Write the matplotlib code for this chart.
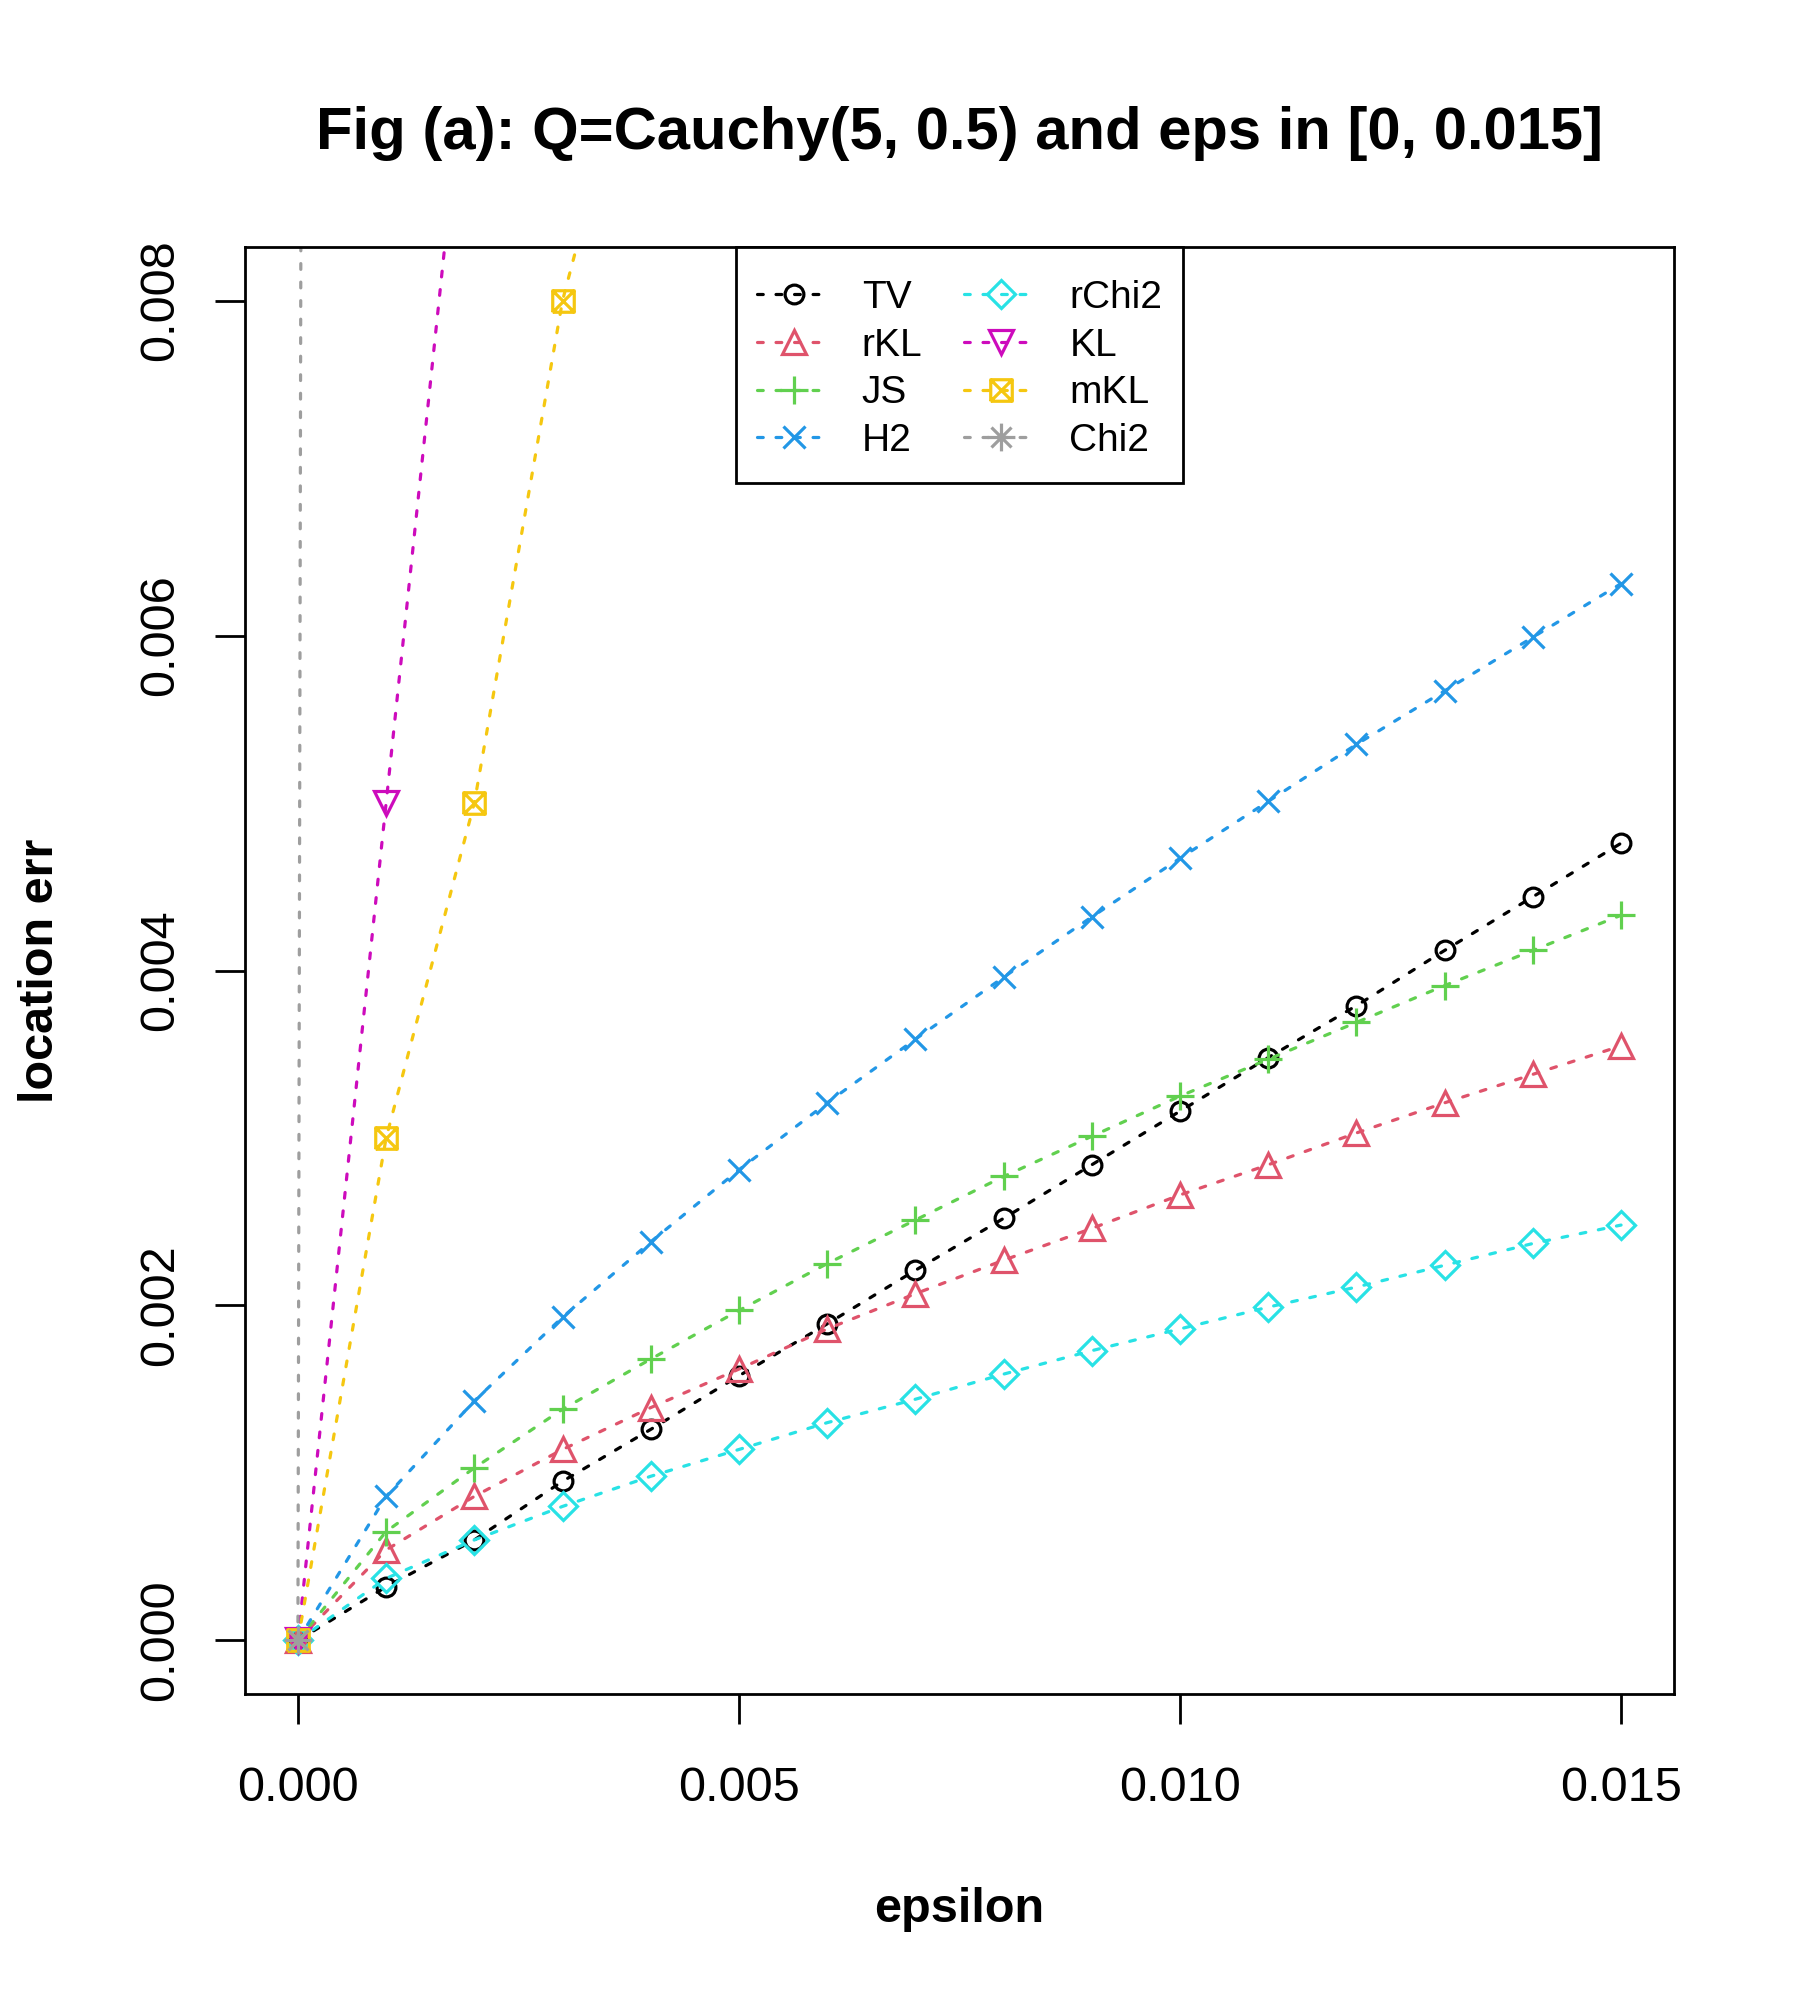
import matplotlib
matplotlib.use("Agg")
import matplotlib.pyplot as plt
from matplotlib.path import Path
from matplotlib.patches import Rectangle
from matplotlib.ticker import FormatStrFormatter

plt.rcParams['font.family'] = ['Liberation Sans', 'DejaVu Sans']

# epsilon grid and location error of each divergence
eps = [0.000, 0.001, 0.002, 0.003, 0.004, 0.005, 0.006, 0.007,
       0.008, 0.009, 0.010, 0.011, 0.012, 0.013, 0.014, 0.015]

tv = [0, 0.00032, 0.00060, 0.00095, 0.00126, 0.00158, 0.00189, 0.00221,
      0.00252, 0.00284, 0.00316, 0.00348, 0.00379, 0.00412, 0.00444, 0.00476]
rkl = [0, 0.00054, 0.00086, 0.00114, 0.00139, 0.00162, 0.00186, 0.00207,
       0.00227, 0.00246, 0.00266, 0.00284, 0.00303, 0.00321, 0.00338, 0.00355]
js = [0, 0.00065, 0.00103, 0.00138, 0.00168, 0.00197, 0.00225, 0.00251,
      0.00277, 0.00301, 0.00325, 0.00347, 0.00369, 0.00391, 0.00412, 0.00433]
h2 = [0, 0.00086, 0.00143, 0.00193, 0.00238, 0.00281, 0.00321, 0.00359,
      0.00396, 0.00432, 0.00467, 0.00501, 0.00535, 0.00567, 0.00599, 0.00631]
rchi2 = [0, 0.00037, 0.00060, 0.00080, 0.00098, 0.00114, 0.00130, 0.00144,
         0.00159, 0.00173, 0.00186, 0.00199, 0.00211, 0.00224, 0.00237, 0.00248]
kl = [0, 0.005, 0.010, 0.015, 0.020, 0.025, 0.030, 0.035,
      0.040, 0.045, 0.050, 0.055, 0.060, 0.065, 0.070, 0.075]
mkl = [0, 0.003, 0.005, 0.008, 0.010, 0.013, 0.015, 0.018,
       0.020, 0.023, 0.025, 0.028, 0.030, 0.033, 0.035, 0.038]
chi2 = [0, 0.25, 0.50, 0.75, 1.00, 1.25, 1.50, 1.75,
        2.00, 2.25, 2.50, 2.75, 3.00, 3.25, 3.50, 3.75]

names = ['TV', 'rKL', 'JS', 'H2', 'rChi2', 'KL', 'mKL', 'Chi2']
series = [tv, rkl, js, h2, rchi2, kl, mkl, chi2]
colors = ['#000000', '#DF536B', '#61D04F', '#2297E6',
          '#28E2E5', '#CD0BBC', '#F5C710', '#9E9E9E']

# R pch 7 (square with a cross) and pch 8 (asterisk)
M, L = Path.MOVETO, Path.LINETO
box_x = Path([(-1, -1), (1, -1), (1, 1), (-1, 1), (-1, -1),
              (-1, -1), (1, 1), (-1, 1), (1, -1)],
             [M, L, L, L, L, M, L, M, L])
star = Path([(-1, 0), (1, 0), (0, -1), (0, 1),
             (-0.72, -0.72), (0.72, 0.72), (-0.72, 0.72), (0.72, -0.72)],
            [M, L, M, L, M, L, M, L])
markers = ['o', '^', '+', 'x', 'D', 'v', box_x, star]
msizes = [13.5, 17.5, 20, 16, 14.5, 17.5, 15.5, 20]

fig = plt.figure(figsize=(18, 20), dpi=100)
ax = fig.add_axes([0.1361, 0.153, 0.7939, 0.7235])

for name, ys, col, mk, ms in zip(names, series, colors, markers, msizes):
    ax.plot(eps, ys, color=col, linestyle=(0, (1.8, 4.0)), linewidth=2.3,
            dash_capstyle='round', marker=mk, markersize=ms,
            markerfacecolor='none', markeredgecolor=col,
            markeredgewidth=2.3, label=name)

ax.set_xlim(-0.0006, 0.0156)
ax.set_ylim(-0.00032, 0.00832)
ax.set_xticks([0.000, 0.005, 0.010, 0.015])
ax.set_yticks([0.000, 0.002, 0.004, 0.006, 0.008])
ax.xaxis.set_major_formatter(FormatStrFormatter('%.3f'))
ax.yaxis.set_major_formatter(FormatStrFormatter('%.3f'))
ax.tick_params(length=21.5, width=2, labelsize=35, direction='out')
ax.tick_params(axis='x', pad=30)
ax.tick_params(axis='y', pad=23, labelrotation=90)
for lab in ax.get_yticklabels():
    lab.set_va('center')
for sp in ax.spines.values():
    sp.set_linewidth(2)

ax.set_xlabel('epsilon', fontsize=35, fontweight='bold', va='baseline')
ax.xaxis.set_label_coords(0.5, -0.1576)
ax.set_ylabel('location err', fontsize=35, fontweight='bold', va='baseline')
ax.yaxis.set_label_coords(-0.1344, 0.5)

fig.text(0.533, 1 - 149 / 2000, 'Fig (a): Q=Cauchy(5, 0.5) and eps in [0, 0.015]',
         fontsize=43, fontweight='bold', ha='center', va='baseline')

# legend without its own frame; R-style box drawn around it below
leg = ax.legend(loc='upper center', bbox_to_anchor=(0.5, 1.0), ncol=2,
                fontsize=28, frameon=False, borderaxespad=0.85, borderpad=0,
                labelspacing=0.3, handlelength=1.9, handletextpad=0.8,
                columnspacing=1.08, numpoints=1)
leg.set_zorder(6)

fig.canvas.draw()
bb = leg.get_window_extent(fig.canvas.get_renderer())
padx, pady = 21, 24
(x0, y0), (x1, y1) = ax.transAxes.inverted().transform(
    [(bb.x0 - padx, bb.y0 - pady), (bb.x1 + padx, bb.y1 + pady)])
ax.add_patch(Rectangle((x0, y0), x1 - x0, 1.0 - y0, transform=ax.transAxes,
                       facecolor='white', edgecolor='black', linewidth=2,
                       zorder=5, clip_on=False))

fig.savefig('out.png', dpi=100)
